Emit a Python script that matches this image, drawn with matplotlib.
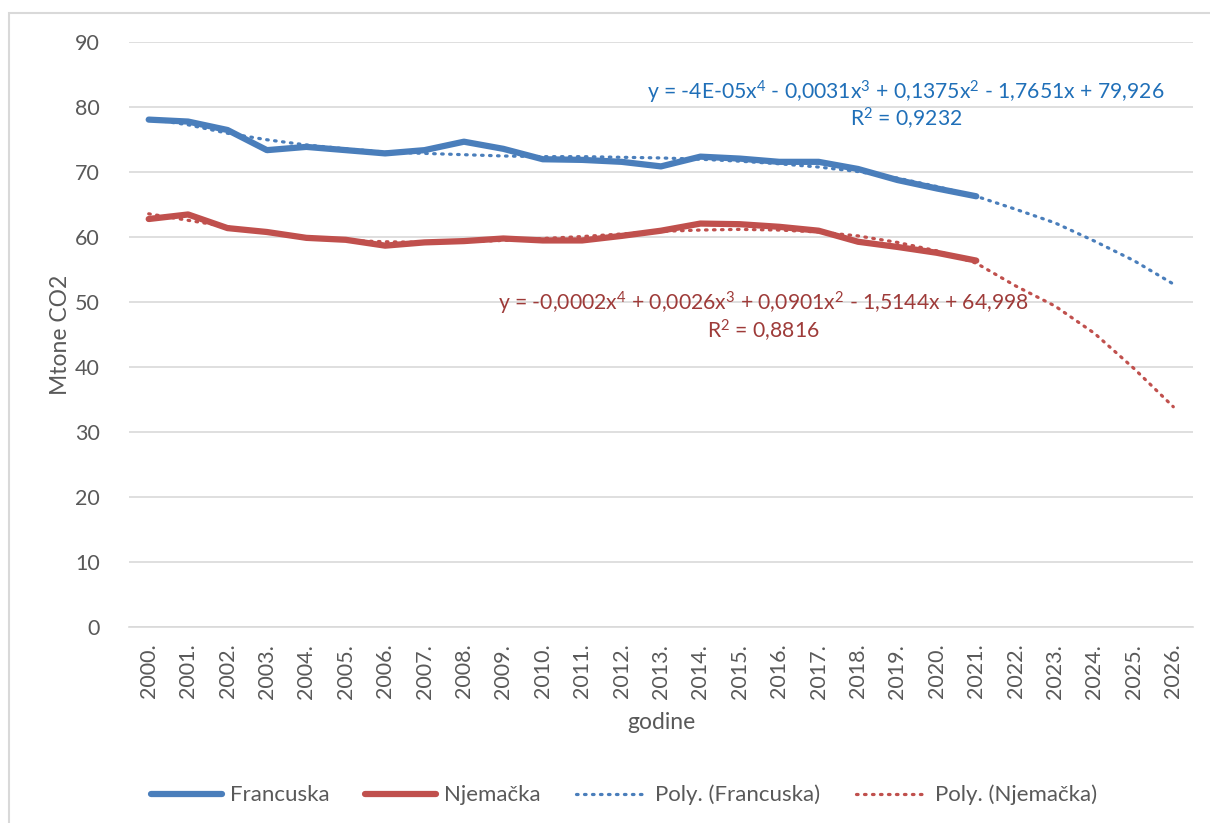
import matplotlib
matplotlib.use('Agg')
import matplotlib.pyplot as plt
from matplotlib.lines import Line2D
from matplotlib.patches import Rectangle

plt.rcParams['font.family'] = ['Lato', 'DejaVu Sans']
plt.rcParams['mathtext.default'] = 'regular'

# Godine (kategorije na osi x)
godine = ['2000.', '2001.', '2002.', '2003.', '2004.', '2005.', '2006.', '2007.', '2008.',
          '2009.', '2010.', '2011.', '2012.', '2013.', '2014.', '2015.', '2016.', '2017.',
          '2018.', '2019.', '2020.', '2021.', '2022.', '2023.', '2024.', '2025.', '2026.']

# Emisije [Mtone CO2], 2000.-2021.
francuska = [78.1, 77.8, 76.5, 73.4, 73.9, 73.4, 72.9, 73.4, 74.7, 73.6, 72.0,
             71.9, 71.6, 70.9, 72.4, 72.1, 71.6, 71.6, 70.5, 68.8, 67.5, 66.3]
njemacka = [62.8, 63.5, 61.4, 60.8, 59.9, 59.6, 58.7, 59.2, 59.4, 59.8, 59.5,
            59.5, 60.2, 61.0, 62.1, 62.0, 61.6, 61.0, 59.3, 58.5, 57.6, 56.4]

# Polinomni trend (ocitano s grafa), 2000.-2026.
trend_fr = [78.2, 77.3, 76.0, 75.0, 74.2, 73.6, 73.1, 72.9, 72.7, 72.5, 72.4, 72.4, 72.3, 72.2,
            72.0, 71.7, 71.3, 70.8, 70.1, 69.1, 67.8, 66.3, 64.3, 62.2, 59.4, 56.4, 52.8]
trend_nj = [63.6, 62.6, 61.6, 60.7, 60.0, 59.5, 59.3, 59.2, 59.3, 59.5, 59.8, 60.1, 60.5, 60.9,
            61.1, 61.2, 61.1, 60.8, 60.2, 59.2, 57.9, 56.0, 52.5, 49.4, 45.2, 39.8, 33.9]

plava = '#4A7EBB'
crvena = '#C0504D'
siva = '#595959'
tocke = (0, (0.5, 2.0))

fig = plt.figure(figsize=(12.10, 8.23), dpi=100)
ax = fig.add_axes([129 / 1210, 1 - 627 / 823, (1193 - 129) / 1210, (627 - 42.3) / 823])

x = list(range(len(godine)))
n = len(francuska)

# Linije trenda (tockasto)
ax.plot(x, trend_fr, color=plava, lw=2.3, linestyle=tocke, dash_capstyle='round', zorder=3)
ax.plot(x, trend_nj, color=crvena, lw=2.3, linestyle=tocke, dash_capstyle='round', zorder=3)
# Mjerene vrijednosti
ax.plot(x[:n], francuska, color=plava, lw=4.5, solid_capstyle='round', solid_joinstyle='round', zorder=2)
ax.plot(x[:n], njemacka, color=crvena, lw=4.5, solid_capstyle='round', solid_joinstyle='round', zorder=2)

ax.set_xlim(-0.5, len(godine) - 0.5)
ax.set_ylim(0, 90)
ax.set_yticks(range(0, 91, 10))
ax.set_xticks(x)
ax.set_xticklabels(godine, rotation=90)
ax.tick_params(axis='both', length=0, labelsize=15.5, labelcolor=siva)
ax.tick_params(axis='y', pad=21)
ax.tick_params(axis='x', pad=12)
ax.grid(axis='y', color='#D9D9D9', lw=1.2)
ax.set_axisbelow(True)
for s in ['top', 'right', 'left']:
    ax.spines[s].set_visible(False)
ax.spines['bottom'].set_color('#D9D9D9')
ax.spines['bottom'].set_linewidth(1.2)

ax.set_ylabel('Mtone CO2', fontsize=16.5, color=siva, labelpad=3)
ax.set_xlabel('godine', fontsize=16.5, color=siva, labelpad=10)

# Jednadzbe trenda
fig.text(906 / 1210, 1 - 92 / 823,
         'y = -4E-05x$^{4}$ - 0,0031x$^{3}$ + 0,1375x$^{2}$ - 1,7651x + 79,926',
         ha='center', va='center', fontsize=15.2, color='#1F6FB8')
fig.text(906 / 1210, 1 - 119 / 823, 'R$^{2}$ = 0,9232',
         ha='center', va='center', fontsize=15.2, color='#1F6FB8')
fig.text(763 / 1210, 1 - 303 / 823,
         'y = -0,0002x$^{4}$ + 0,0026x$^{3}$ + 0,0901x$^{2}$ - 1,5144x + 64,998',
         ha='center', va='center', fontsize=15.2, color='#9E3B39')
fig.text(763 / 1210, 1 - 331 / 823, 'R$^{2}$ = 0,8816',
         ha='center', va='center', fontsize=15.2, color='#9E3B39')

# Legenda
handles = [
    Line2D([], [], color=plava, lw=4.5, solid_capstyle='round'),
    Line2D([], [], color=crvena, lw=4.5, solid_capstyle='round'),
    Line2D([], [], color=plava, lw=2.3, linestyle=tocke, dash_capstyle='round'),
    Line2D([], [], color=crvena, lw=2.3, linestyle=tocke, dash_capstyle='round'),
]
labels = ['Francuska', 'Njemačka', 'Poly. (Francuska)', 'Poly. (Njemačka)']
leg = fig.legend(handles, labels, loc='center', bbox_to_anchor=(624 / 1210, 1 - 795 / 823),
                 ncol=4, frameon=False, fontsize=16, handlelength=3.2, columnspacing=1.6,
                 handletextpad=0.35)
for t in leg.get_texts():
    t.set_color(siva)

# Okvir grafikona (vidljiv lijevo i gore)
fig.patches.append(Rectangle((8.5 / 1210, -0.1), 1.2, 1 - 13 / 823 + 0.1, transform=fig.transFigure,
                             fill=False, edgecolor='#D9D9D9', lw=1.5))

fig.savefig('out.png', dpi=100)
